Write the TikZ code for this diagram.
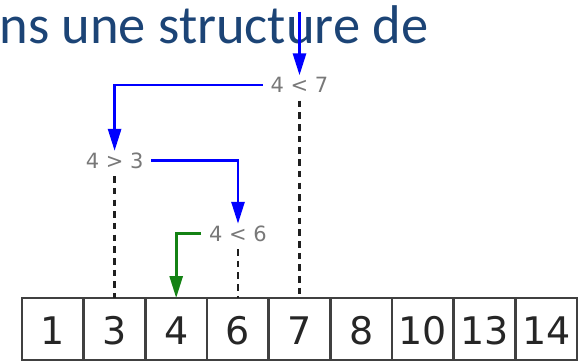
\documentclass[tikz,border=0pt]{standalone}
\usepackage{fontspec}
\setmainfont{DejaVu Sans}
\newfontfamily\titlefont{Carlito}
\usetikzlibrary{arrows.meta}

\definecolor{titleblue}{RGB}{28,68,118}
\definecolor{cmpgray}{RGB}{120,120,120}
\definecolor{gridgray}{RGB}{64,64,64}
\definecolor{stepblue}{RGB}{0,0,255}
\definecolor{stepgreen}{RGB}{20,130,20}

\tikzset{
  cell/.style={draw=gridgray, line width=2.6pt, minimum width=61.67pt,
    minimum height=62pt, inner sep=0pt, outer sep=0pt,
    font=\fontsize{38}{40}\selectfont, text=black!85,
    text height=31.7pt, text depth=0pt},
  cmp/.style={inner xsep=6pt, inner ysep=0pt, outer sep=2pt,
    font=\fontsize{21}{24}\selectfont, text=cmpgray,
    text height=15.3pt, text depth=0pt},
  probe/.style={line width=2.8pt, -{Triangle[length=22pt,width=13pt]}},
  guide/.style={line width=2.6pt, draw=black!88, dash pattern=on 6.5pt off 5.2pt,
    shorten <=6pt}
}

\begin{document}
\begin{tikzpicture}[x=1pt,y=-1pt]
\useasboundingbox (0,0) rectangle (583,361);

% heading fragment
\node[anchor=base west, inner sep=0pt, text=titleblue,
  font=\titlefont\fontsize{54.5}{60}\selectfont] (title) at (-0.8,43.5)
  {ns une structure de};

% the sorted array
\foreach \v [count=\i] in {1,3,4,6,7,8,10,13,14}
  \node[cell] (c\i) at ({22+61.67*(\i-0.5)},329) {\v};

% comparisons
\node[cmp] (l7) at (299.5,85) {4 < 7};
\node[cmp] (l3) at (114.6,160.5) {4 > 3};
\node[cmp] (l6) at (238,233.4) {4 < 6};

% dashed guides down to the array
\draw[guide] (l7.south) -- (l7.south |- c5.north);
\draw[guide] (l3.south) -- (l3.south |- c2.north);
\draw[guide] (l6.south) -- (l6.south |- c4.north);

% search path
\coordinate (start) at (299.5,12);
\draw[probe, stepblue] (start) -- (l7.north);
\draw[probe, stepblue] (l7.west) -| (l3.north);
\draw[probe, stepblue] (l3.east) -| (l6.north);
\draw[probe, stepgreen] (l6.west) -| (c3.north);
\end{tikzpicture}
\end{document}
